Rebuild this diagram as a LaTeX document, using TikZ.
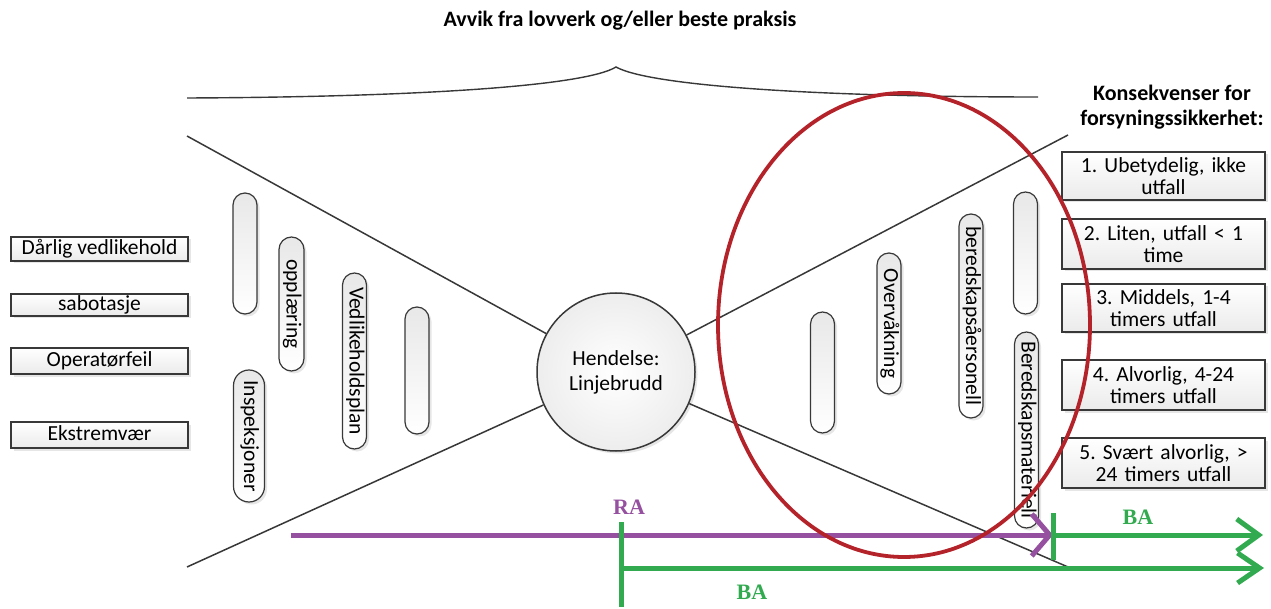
\documentclass[tikz,border=0pt]{standalone}
\usepackage{fontspec}
\setmainfont{Carlito}
\newfontfamily\labelserif{Liberation Serif}
\usetikzlibrary{shapes.misc,shadows,arrows.meta}
\definecolor{linegray}{HTML}{383838}
\definecolor{rapurple}{HTML}{9650A0}
\definecolor{bagreen}{HTML}{32AA50}
\definecolor{ringred}{HTML}{B4232A}
\frenchspacing
\begin{document}
\begin{tikzpicture}[x=1pt,y=-1pt,
  every node/.style={font=\fontsize{21.5}{22}\selectfont},
  funnel/.style={draw=linegray, line width=1.5pt},
  softshadow/.style={drop shadow={shadow xshift=2.5pt, shadow yshift=-2.5pt, opacity=0.2}},
  causebox/.style={rectangle, draw=linegray, line width=1.5pt, inner sep=0pt,
    minimum width=177pt, top color=white, bottom color=gray!16, softshadow,
    text height=14.5pt, text depth=4pt},
  consbox/.style={rectangle, draw=linegray, line width=1.5pt, inner sep=0pt,
    minimum width=203pt, minimum height=48pt, text width=200pt, align=center,
    top color=white, bottom color=gray!16, softshadow},
  barrier/.style={rounded rectangle, draw=linegray, line width=1.2pt, inner sep=0pt,
    rotate=-90, minimum height=24pt, top color=gray!18, bottom color=white,
    text height=15pt, text depth=5pt, softshadow},
  headline/.style={font=\fontsize{22}{25}\selectfont\bfseries, align=center},
  scale label/.style={font=\fontsize{22}{22}\selectfont\labelserif\bfseries},
]
\useasboundingbox (0,0) rectangle (1271,609);

% title and brace
\node[headline] (title) at (620,21) {Avvik fra lovverk og/eller beste praksis};
\draw[linegray, line width=1.4pt]
  (187,98) .. controls (420,97) and (585,86) .. (616,67)
           .. controls (650,86) and (820,97) .. (1038,97);

% central event
\node[circle, draw=linegray, line width=1.5pt, minimum size=158pt, inner sep=0pt,
      inner color=white, outer color=gray!14, softshadow, align=center,
      font=\fontsize{21.5}{25}\selectfont] (ev) at (616,372) {Hendelse:\\Linjebrudd};

% bow-tie outline
\coordinate (tl) at (187,136);
\coordinate (bl) at (187,567);
\coordinate (tr) at (1068,135);
\coordinate (br) at (1068,567);
\draw[funnel] (tl) -- (ev);
\draw[funnel] (bl) -- (ev);
\draw[funnel] (tr) -- (ev);
\draw[funnel] (br) -- (ev);

% causes
\node[causebox, minimum height=24pt] (c1) at (99.5,249) {Dårlig vedlikehold};
\node[causebox, minimum height=22pt] (c2) at (99.5,305) {sabotasje};
\node[causebox, minimum height=26pt] (c3) at (99.5,361) {Operatørfeil};
\node[causebox, minimum height=26pt] (c4) at (99.5,435) {Ekstremvær};

% preventive barriers
\node[barrier, minimum width=121pt] (p1) at (245,253.5) {};
\node[barrier, minimum width=134pt, minimum height=25pt] (p2) at (291.5,304) {opplæring};
\node[barrier, minimum width=132pt, minimum height=31pt] (p3) at (249,436) {Inspeksjoner};
\node[barrier, minimum width=176pt] (p4) at (354.5,361) {Vedlikeholdsplan};
\node[barrier, minimum width=127pt] (p5) at (417,370.5) {};

% mitigating barriers
\node[barrier, minimum width=121pt] (m1) at (822.5,372.5) {};
\node[barrier, minimum width=141pt] (m2) at (889,323.5) {Overvåkning};
\node[barrier, minimum width=204pt] (m3) at (971,316) {beredskapsåersonell};
\node[barrier, minimum width=122pt] (m4) at (1025.5,253) {};
\node[barrier, minimum width=196pt] (m5) at (1026.5,430) {Beredskapsmateriell};

% consequences
\node[headline] (kons) at (1172,107) {Konsekvenser for\\forsyningssikkerhet:};
\node[consbox] (k1) at (1163.5,176) {1. Ubetydelig, ikke\\utfall};
\node[consbox, minimum height=50pt] (k2) at (1163.5,244) {2. Liten, utfall < 1\\time};
\node[consbox] (k3) at (1163.5,308) {3. Middels, 1-4\\timers utfall};
\node[consbox, minimum height=50pt] (k4) at (1163.5,385) {4. Alvorlig, 4-24\\timers utfall};
\node[consbox, minimum height=50pt] (k5) at (1163.5,463) {5. Svært alvorlig, >\\24 timers utfall};

% RA / BA ranges
\coordinate (raS) at (291,535);
\coordinate (raE) at (1053,535);
\coordinate (baAT) at (1053,513);
\coordinate (baAB) at (1053,560);
\coordinate (baAE) at (1263,535);
\coordinate (baBT) at (621,522);
\coordinate (baBB) at (621,607);
\coordinate (baBS) at (621,568);
\coordinate (baBE) at (1264,568);
\draw[rapurple, line width=5pt, -{Straight Barb[length=18pt,width=42pt]}] (raS) -- (raE);
\draw[bagreen, line width=5pt] (baAT) -- (baAB);
\draw[bagreen, line width=5pt, -{Straight Barb[length=22pt,width=32pt]}] (raE) -- (baAE);
\draw[bagreen, line width=5pt] (baBT) -- (baBB);
\draw[bagreen, line width=5pt, -{Straight Barb[length=22pt,width=30pt]}] (baBS) -- (baBE);
\node[scale label, text=rapurple] (ra) at (629,507) {RA};
\node[scale label, text=bagreen] (ba1) at (1138,517) {BA};
\node[scale label, text=bagreen] (ba2) at (752,592) {BA};

% highlighted region
\draw[ringred, line width=3.8pt] (904,325) ellipse [x radius=186pt, y radius=232pt];
\end{tikzpicture}
\end{document}
